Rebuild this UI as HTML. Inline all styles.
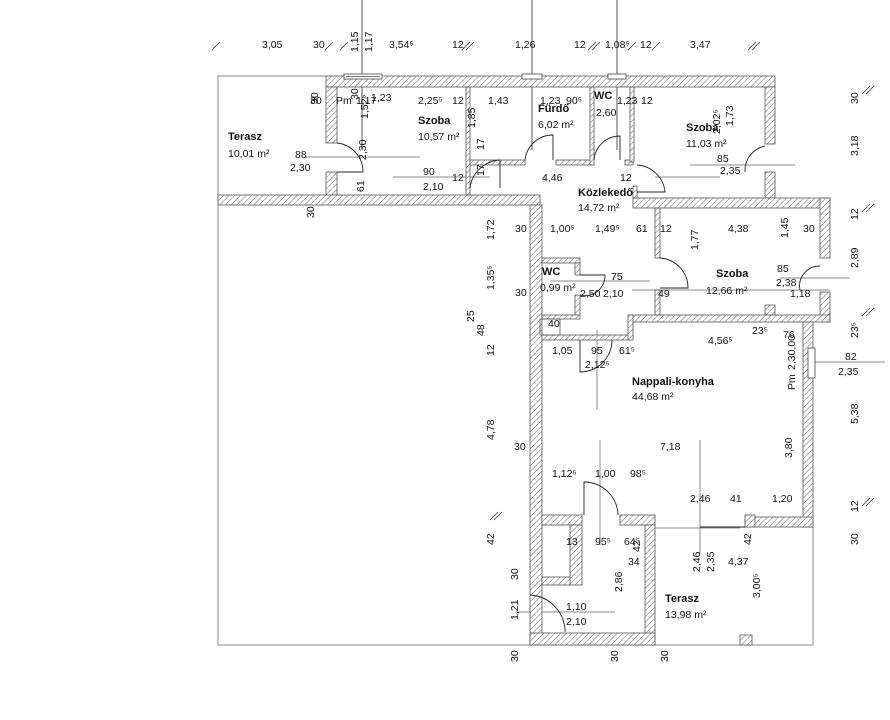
<!DOCTYPE html>
<html><head><meta charset="utf-8"><style>
html,body{margin:0;padding:0;background:#fff}
svg{display:block}
text{font-family:"Liberation Sans",sans-serif;font-size:10.5px;fill:#111}
.b{font-weight:bold;font-size:11px}
</style></head><body>
<svg width="890" height="720" viewBox="0 0 890 720" xmlns="http://www.w3.org/2000/svg">
<defs>
<pattern id="h" width="4" height="4" patternUnits="userSpaceOnUse" patternTransform="rotate(45)">
<rect width="4" height="4" fill="#fff"/><line x1="0" y1="0" x2="0" y2="4" stroke="#666" stroke-width="1"/>
</pattern>
</defs>
<g fill="none" stroke="#888" stroke-width="1">
<polyline points="326,76 218,76 218,645 813,645 813,527"/>
<line x1="218" y1="195" x2="218" y2="645"/>
<line x1="362" y1="0" x2="362" y2="150" stroke="#555"/>
<line x1="532" y1="0" x2="532" y2="150" stroke="#555"/>
<line x1="617" y1="0" x2="617" y2="150" stroke="#555"/>
<line x1="305" y1="157" x2="420" y2="157"/>
<line x1="393" y1="177" x2="490" y2="177"/>
<line x1="690" y1="165" x2="795" y2="165"/>
<line x1="655" y1="177" x2="720" y2="177"/>
<line x1="550" y1="281" x2="650" y2="281"/>
<line x1="632" y1="290" x2="830" y2="290"/>
<line x1="780" y1="278" x2="850" y2="278"/>
<line x1="813" y1="362" x2="885" y2="362"/>
<line x1="597" y1="330" x2="597" y2="410"/>
<line x1="600" y1="440" x2="600" y2="545" />
<line x1="700" y1="440" x2="700" y2="555"/>
<line x1="516" y1="612" x2="615" y2="612"/>
<line x1="655" y1="528" x2="740" y2="528"/>
</g>
<!-- ticks -->
<g stroke="#333" stroke-width="0.8">
<line x1="212" y1="50" x2="220" y2="42"/><line x1="325" y1="50" x2="333" y2="42"/><line x1="340" y1="50" x2="348" y2="42"/>
<line x1="462" y1="50" x2="470" y2="42"/><line x1="466" y1="50" x2="474" y2="42"/>
<line x1="588" y1="50" x2="596" y2="42"/><line x1="592" y1="50" x2="600" y2="42"/>
<line x1="628" y1="50" x2="636" y2="42"/><line x1="652" y1="50" x2="660" y2="42"/>
<line x1="748" y1="50" x2="756" y2="42"/><line x1="752" y1="50" x2="760" y2="42"/>
<line x1="862" y1="94" x2="870" y2="86"/><line x1="866" y1="94" x2="874" y2="86"/>
<line x1="862" y1="212" x2="870" y2="204"/><line x1="866" y1="212" x2="874" y2="204"/>
<line x1="862" y1="316" x2="870" y2="308"/><line x1="866" y1="316" x2="874" y2="308"/>
<line x1="862" y1="506" x2="870" y2="498"/><line x1="866" y1="506" x2="874" y2="498"/>
<line x1="490" y1="520" x2="498" y2="512"/><line x1="494" y1="520" x2="502" y2="512"/>
</g>
<g fill="url(#h)" stroke="#555" stroke-width="0.8">
<rect x="326" y="76" width="449" height="11"/>
<rect x="326" y="87" width="11" height="56"/>
<rect x="326" y="172" width="11" height="23"/>
<rect x="218" y="195" width="322" height="10"/>
<rect x="530" y="205" width="12" height="440"/>
<rect x="466" y="87" width="4" height="108"/>
<rect x="470" y="160" width="55" height="5"/>
<rect x="556" y="160" width="36" height="5"/>
<rect x="590" y="87" width="4" height="78"/>
<rect x="625" y="160" width="8" height="5"/>
<rect x="630" y="87" width="4" height="75"/>
<rect x="765" y="87" width="10" height="57"/>
<rect x="765" y="172" width="10" height="26"/>
<rect x="633" y="198" width="197" height="10"/>
<rect x="633" y="186" width="4" height="12"/>
<rect x="820" y="198" width="10" height="60"/>
<rect x="820" y="292" width="10" height="30"/>
<rect x="655" y="208" width="5" height="50"/>
<rect x="655" y="290" width="5" height="25"/>
<rect x="632" y="315" width="198" height="7"/>
<rect x="765" y="305" width="10" height="10"/>
<rect x="542" y="258" width="38" height="5"/>
<rect x="575" y="263" width="5" height="12"/>
<rect x="575" y="295" width="5" height="20"/>
<rect x="542" y="315" width="38" height="4"/>
<rect x="542" y="335" width="90" height="5"/>
<rect x="540" y="319" width="20" height="16" fill="none"/>
<rect x="628" y="315" width="5" height="25"/>
<rect x="803" y="322" width="10" height="205"/>
<rect x="745" y="517" width="68" height="10"/>
<rect x="745" y="515" width="10" height="12"/>
<rect x="542" y="515" width="40" height="10"/>
<rect x="620" y="515" width="35" height="10"/>
<rect x="570" y="525" width="12" height="60"/>
<rect x="542" y="577" width="28" height="8"/>
<rect x="645" y="525" width="10" height="120"/>
<rect x="530" y="633" width="125" height="12"/>
<rect x="740" y="635" width="12" height="10"/>
</g>
<g fill="#fff" stroke="#444" stroke-width="0.8">
<rect x="344" y="74" width="38" height="5"/><line x1="346" y1="76.5" x2="380" y2="76.5"/>
<rect x="522" y="74" width="20" height="5"/>
<rect x="608" y="74" width="18" height="5"/>
<rect x="808" y="348" width="7" height="30"/>
</g>
<g fill="none" stroke="#222" stroke-width="0.9">
<path d="M337,143 A29,29 0 0 1 363,172 L337,172"/>
<path d="M470,188 A32,32 0 0 1 500,160 L500,188"/>
<path d="M525,160 A28,28 0 0 1 553,135 L553,160"/>
<path d="M594,160 A26,26 0 0 1 620,136 L620,160"/>
<path d="M637,165 A30,30 0 0 1 665,192 L637,192"/>
<path d="M745,172 A25,25 0 0 1 765,146"/>
<path d="M580,275 L605,275 A20,20 0 0 1 580,295"/>
<path d="M660,258 A30,30 0 0 1 688,288 L660,288"/>
<path d="M800,290 A20,20 0 0 1 820,266"/>
<path d="M580,340 L580,372 A32,32 0 0 0 612,340"/>
<path d="M584,515 L584,482 A34,34 0 0 1 618,515"/>
<path d="M530,595 A37,37 0 0 1 565,632 L565,628"/>
<line x1="700" y1="527" x2="745" y2="527"/>
</g>
<g>
<text x="262" y="48">3,05</text><text x="313" y="48">30</text><text x="389" y="48">3,54⁵</text>
<text x="452" y="48">12</text><text x="574" y="48">12</text><text x="640" y="48">12</text>
<text x="690" y="48">3,47</text><text x="605" y="48">1,08⁵</text><text x="515" y="48">1,26</text>
<text transform="translate(358,52) rotate(-90)">1,15</text>
<text transform="translate(372,52) rotate(-90)">1,17</text>
<text transform="translate(358,100) rotate(-90)">30</text>
<text transform="translate(858,104) rotate(-90)">30</text>
<text transform="translate(858,156) rotate(-90)">3,18</text>
<text transform="translate(858,220) rotate(-90)">12</text>
<text transform="translate(858,268) rotate(-90)">2,89</text>
<text transform="translate(858,338) rotate(-90)">23⁵</text>
<text transform="translate(858,424) rotate(-90)">5,38</text>
<text transform="translate(858,512) rotate(-90)">12</text>
<text transform="translate(858,545) rotate(-90)">30</text>
<text x="845" y="360">82</text><text x="838" y="375">2,35</text>
<text x="310" y="104">30</text><text x="336" y="104">Pm</text><text x="356" y="104">1,17</text><text x="371" y="101">1,23</text>
<text x="418" y="104">2,25⁵</text><text x="452" y="104">12</text><text x="488" y="104">1,43</text><text x="540" y="104">1,23</text>
<text x="566" y="104">90⁵</text><text x="594" y="99" class="b">WC</text><text x="617" y="104">1,23</text><text x="641" y="104">12</text>
<text x="538" y="112" class="b">Fürdő</text><text x="538" y="128">6,02 m²</text><text x="596" y="116">2,60</text>
<text x="418" y="124" class="b">Szoba</text><text x="418" y="140">10,57 m²</text>
<text x="686" y="131" class="b">Szoba</text><text x="686" y="147">11,03 m²</text>
<text x="228" y="140" class="b">Terasz</text><text x="228" y="157">10,01 m²</text>
<text x="295" y="158">88</text><text x="290" y="171">2,30</text>
<text x="423" y="175">90</text><text x="423" y="190">2,10</text><text x="452" y="181">12</text>
<text x="542" y="181">4,46</text><text x="620" y="181">12</text>
<text x="578" y="196" class="b">Közlekedő</text><text x="578" y="211">14,72 m²</text>
<text x="717" y="162">85</text><text x="720" y="174">2,35</text>
<text x="515" y="232">30</text><text x="550" y="232">1,00⁵</text><text x="595" y="232">1,49⁵</text><text x="636" y="232">61</text><text x="660" y="232">12</text>
<text x="728" y="232">4,38</text><text x="803" y="232">30</text>
<text transform="translate(698,250) rotate(-90)">1,77</text>
<text transform="translate(788,238) rotate(-90)">1,45</text>
<text x="542" y="275" class="b">WC</text><text x="540" y="291">0,99 m²</text>
<text x="611" y="280">75</text><text x="580" y="297">2,50</text><text x="603" y="297">2,10</text>
<text x="658" y="297">49</text><text x="716" y="277" class="b">Szoba</text><text x="706" y="294">12,66 m²</text>
<text x="777" y="272">85</text><text x="776" y="286">2,38</text><text x="790" y="297">1,18</text>
<text x="515" y="296">30</text>
<text transform="translate(494,240) rotate(-90)">1,72</text>
<text transform="translate(494,290) rotate(-90)">1,35⁵</text>
<text transform="translate(474,322) rotate(-90)">25</text>
<text transform="translate(484,336) rotate(-90)">48</text>
<text transform="translate(494,356) rotate(-90)">12</text>
<text transform="translate(494,440) rotate(-90)">4,78</text>
<text transform="translate(494,545) rotate(-90)">42</text>
<text x="548" y="327">40</text><text x="552" y="354">1,05</text><text x="591" y="354">95</text><text x="585" y="368">2,12⁵</text><text x="619" y="354">61⁵</text>
<text x="708" y="344">4,56⁵</text><text x="752" y="334">23⁵</text><text x="783" y="338">76</text>
<text x="632" y="385" class="b">Nappali-konyha</text><text x="632" y="400">44,68 m²</text>
<text transform="translate(795,390) rotate(-90)">Pm</text>
<text transform="translate(795,370) rotate(-90)">2,30,00</text>
<text x="514" y="450">30</text><text x="660" y="450">7,18</text>
<text transform="translate(792,458) rotate(-90)">3,80</text>
<text x="552" y="477">1,12⁵</text><text x="595" y="477">1,00</text><text x="630" y="477">98⁵</text>
<text x="690" y="502">2,46</text><text x="730" y="502">41</text><text x="772" y="502">1,20</text>
<text x="566" y="545">13</text><text x="595" y="545">95⁵</text><text x="624" y="545">64⁵</text>
<text x="628" y="565">34</text><text x="728" y="565">4,37</text>
<text transform="translate(700,572) rotate(-90)">2,46</text>
<text transform="translate(714,572) rotate(-90)">2,35</text>
<text transform="translate(622,592) rotate(-90)">2,86</text>
<text transform="translate(760,598) rotate(-90)">3,00⁵</text>
<text x="665" y="602" class="b">Terasz</text><text x="665" y="618">13,98 m²</text>
<text x="566" y="610">1,10</text><text x="566" y="625">2,10</text>
<text transform="translate(518,620) rotate(-90)">1,21</text>
<text transform="translate(518,580) rotate(-90)">30</text>
<text transform="translate(518,662) rotate(-90)">30</text>
<text transform="translate(618,662) rotate(-90)">30</text>
<text transform="translate(668,662) rotate(-90)">30</text>
<text transform="translate(314,218) rotate(-90)">30</text>
<text transform="translate(318,104) rotate(-90)">30</text>
<text transform="translate(364,192) rotate(-90)">61</text>
<text transform="translate(366,160) rotate(-90)">2,30</text>
<text transform="translate(484,150) rotate(-90)">17</text>
<text transform="translate(484,176) rotate(-90)">17</text>
<text transform="translate(475,128) rotate(-90)">1,85</text>
<text transform="translate(368,119) rotate(-90)">1,52⁵</text>
<text transform="translate(720,134) rotate(-90)">2,02⁵</text>
<text transform="translate(733,126) rotate(-90)">1,73</text>
<text transform="translate(751,545) rotate(-90)">42</text>
<text transform="translate(640,552) rotate(-90)">42</text>
</g>
</svg>
</body></html>
